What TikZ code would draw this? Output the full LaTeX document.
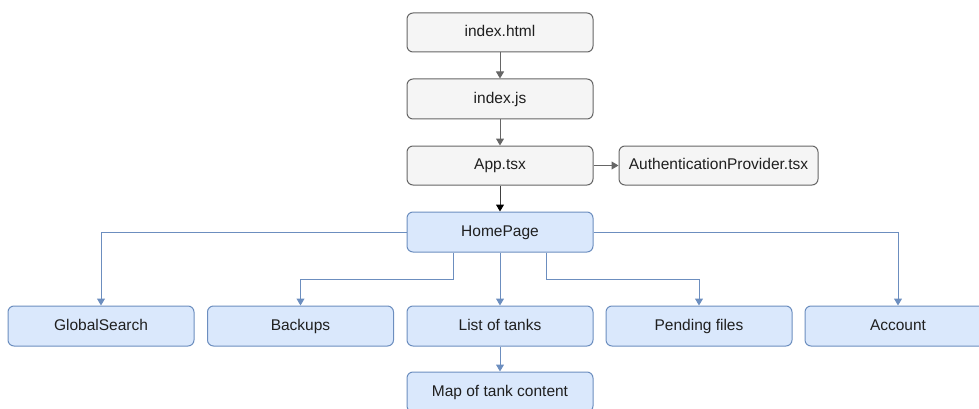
\documentclass[tikz,border=0pt]{standalone}
\usepackage{fontspec}
\setmainfont{Liberation Sans}
\usetikzlibrary{arrows.meta}
\definecolor{greyfill}{HTML}{F5F5F5}
\definecolor{greyline}{HTML}{666666}
\definecolor{bluefill}{HTML}{DAE8FC}
\definecolor{blueline}{HTML}{6C8EBF}
\tikzset{
  box/.style={rounded corners=6pt, line width=1pt, minimum width=186pt, minimum height=40pt,
    inner sep=0pt, text height=11.2pt, text depth=3.2pt,
    font=\fontsize{15.5}{18}\selectfont, text=black!88},
  greybox/.style={box, draw=greyline, fill=greyfill},
  bluebox/.style={box, draw=blueline, fill=bluefill},
  greyarrow/.style={draw=greyline, line width=1pt, -{Triangle[length=7pt,width=8pt]}},
  bluearrow/.style={draw=blueline, line width=1pt, -{Triangle[length=7pt,width=8pt]}},
  darkarrow/.style={draw=black!75, line width=1pt, -{Triangle[length=7pt,width=8pt,color=black,fill=black]}},
}
\begin{document}
\begin{tikzpicture}[x=1pt, y=-1pt]
  \useasboundingbox (0,0) rectangle (979,409);
  \clip (0,0) rectangle (979,409);

  % entry chain
  \node[greybox, minimum height=39pt] (idx)  at (500,32.5) {index.html};
  \node[greybox] (js)   at (500,99) {index.js};
  \node[greybox, minimum height=39pt] (app)  at (500,165.5) {App.tsx};
  \node[greybox, minimum width=199pt, minimum height=39pt] (auth) at (718.5,165.5) {AuthenticationProvider.tsx};

  % home page and its children
  \node[bluebox] (home) at (500,232) {HomePage};
  \node[bluebox] (gs)   at (101,326) {GlobalSearch};
  \node[bluebox] (bk)   at (300.5,326) {Backups};
  \node[bluebox] (lt)   at (500,326) {List of tanks};
  \node[bluebox] (pf)   at (699,326) {Pending files};
  \node[bluebox] (acc)  at (898,326) {Account};
  \node[bluebox] (map)  at (500,392) {Map of tank content};

  % connectors
  \draw[greyarrow] (idx) -- (js);
  \draw[greyarrow] (js) -- (app);
  \draw[greyarrow] (app) -- (auth);
  \draw[darkarrow] (app) -- (home);

  \draw[bluearrow] (home.west) -| (gs.north);
  \draw[bluearrow] ([xshift=-47pt]home.south) -- ++(0,27) -| (bk.north);
  \draw[bluearrow] (home) -- (lt);
  \draw[bluearrow] ([xshift=46pt]home.south) -- ++(0,27) -| (pf.north);
  \draw[bluearrow] (home.east) -| (acc.north);
  \draw[bluearrow] (lt) -- (map);
\end{tikzpicture}
\end{document}
